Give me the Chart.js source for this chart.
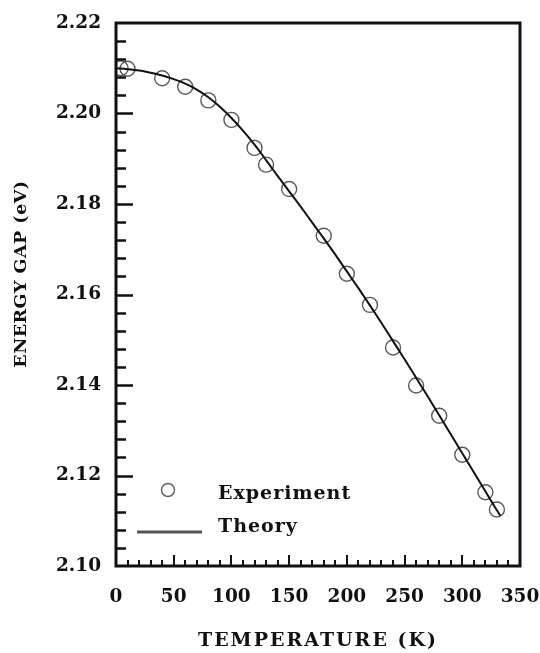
<!DOCTYPE html>
<html>
<head>
<meta charset="utf-8">
<title>Energy gap vs temperature</title>
<script src="https://cdn.jsdelivr.net/npm/chart.js@4"></script>
<style>
  html, body { margin: 0; padding: 0; background: #fff; }
  #wrap { width: 540px; height: 653px; }
</style>
</head>
<body>
<div id="wrap"><canvas id="gapChart" width="540" height="653"></canvas></div>
<script>
// Medidas: temperatura (K) y gap de energía (eV)
const expTemp = [4, 10, 40, 60, 80, 100, 120, 130, 150, 180, 200, 220, 240, 260, 280, 300, 320, 330];
const expGap = [2.2100, 2.2099, 2.2078, 2.2059, 2.2029, 2.1986, 2.1924, 2.1887, 2.1833, 2.1730,
                2.1646, 2.1577, 2.1483, 2.1399, 2.1332, 2.1246, 2.1163, 2.1125];

// Curva teórica
const theoryTemp = [0, 10, 20, 30, 40, 50, 60, 70, 80, 90, 100, 110, 120, 130, 140, 150, 160,
                    170, 180, 190, 200, 210, 220, 230, 240, 250, 260, 270, 280, 290, 300, 310,
                    320, 330, 333];
const theoryGap = [2.2100, 2.2098, 2.2095, 2.2090, 2.2084, 2.2076, 2.2066, 2.2053, 2.2036, 2.2015,
                   2.1990, 2.1962, 2.1931, 2.1897, 2.1862, 2.1828, 2.1794, 2.1759, 2.1724, 2.1688,
                   2.1651, 2.1614, 2.1576, 2.1537, 2.1497, 2.1457, 2.1416, 2.1375, 2.1333, 2.1291,
                   2.1249, 2.1207, 2.1165, 2.1123, 2.1111];

// Marcas de los ejes
const xTicks = [0, 50, 100, 150, 200, 250, 300, 350];
const yTicks = [2.10, 2.12, 2.14, 2.16, 2.18, 2.20, 2.22];
const xMinorStep = 10;
const yMinorStep = 0.004;

const xTitle = 'TEMPERATURE (K)';
const yTitle = 'ENERGY GAP (eV)';

const serif = "'DejaVu Serif', 'Liberation Serif', serif";

function toPoints(xs, ys) {
    return xs.map((x, i) => ({ x: x, y: ys[i] }));
}

// Marco, marcas interiores, títulos y leyenda
const decorPlugin = {
    id: 'decor',
    afterDraw(chart) {
        const ctx = chart.ctx;
        const area = chart.chartArea;
        const xs = chart.scales.x;
        const ys = chart.scales.y;

        ctx.save();
        ctx.strokeStyle = '#111';
        ctx.lineCap = 'butt';

        // Marcas del eje Y (hacia dentro)
        ctx.lineWidth = 2.5;
        const nY = Math.round((ys.max - ys.min) / yMinorStep);
        for (let i = 1; i < nY; i++) {
            const py = Math.round(ys.getPixelForValue(ys.min + i * yMinorStep)) + 0.5;
            const len = (i % 5 === 0) ? 17 : 10;
            ctx.beginPath();
            ctx.moveTo(area.left, py);
            ctx.lineTo(area.left + len, py);
            ctx.stroke();
        }

        // Marcas del eje X
        ctx.lineWidth = 2;
        const nX = Math.round((xs.max - xs.min) / xMinorStep);
        for (let i = 1; i < nX; i++) {
            const px = Math.round(xs.getPixelForValue(xs.min + i * xMinorStep));
            const len = (i % 5 === 0) ? 11 : 6;
            ctx.beginPath();
            ctx.moveTo(px, area.bottom);
            ctx.lineTo(px, area.bottom - len);
            ctx.stroke();
        }

        // Marco
        ctx.lineWidth = 3;
        ctx.strokeRect(area.left, area.top, area.right - area.left, area.bottom - area.top);

        // Títulos de los ejes
        ctx.fillStyle = '#111';
        ctx.textAlign = 'center';
        ctx.textBaseline = 'middle';
        ctx.font = 'bold 19px ' + serif;
        ctx.letterSpacing = '2px';
        ctx.fillText(xTitle, 318, 641);
        ctx.font = 'bold 17.5px ' + serif;
        ctx.letterSpacing = '0.5px';
        ctx.translate(21, 274);
        ctx.rotate(-Math.PI / 2);
        ctx.fillText(yTitle, 0, 0);
        ctx.restore();

        // Leyenda
        const exp = chart.data.datasets[1];
        const th = chart.data.datasets[0];
        ctx.save();
        ctx.strokeStyle = '#666';
        ctx.lineWidth = 1.5;
        ctx.beginPath();
        ctx.arc(168, 490, 6.5, 0, Math.PI * 2);
        ctx.stroke();
        ctx.strokeStyle = '#555';
        ctx.lineWidth = 3;
        ctx.beginPath();
        ctx.moveTo(137, 532);
        ctx.lineTo(202, 532);
        ctx.stroke();
        ctx.fillStyle = '#111';
        ctx.font = 'bold 19px ' + serif;
        ctx.letterSpacing = '1px';
        ctx.textAlign = 'left';
        ctx.textBaseline = 'alphabetic';
        ctx.fillText(exp.label, 218, 499);
        ctx.fillText(th.label, 218, 532);
        ctx.restore();
    }
};

function initGapChart(ctx) {
    return new Chart(ctx, {
        type: 'scatter',
        data: {
            datasets: [
                {
                    label: 'Theory',
                    data: toPoints(theoryTemp, theoryGap),
                    showLine: true,
                    borderColor: '#111',
                    borderWidth: 2,
                    pointRadius: 0,
                    cubicInterpolationMode: 'monotone'
                },
                {
                    label: 'Experiment',
                    data: toPoints(expTemp, expGap),
                    showLine: false,
                    pointStyle: 'circle',
                    pointRadius: 7.5,
                    borderColor: '#5a5a5a',
                    borderWidth: 1.4,
                    backgroundColor: 'rgba(0,0,0,0)'
                }
            ]
        },
        options: {
            responsive: false,
            animation: false,
            layout: { padding: { left: 0, top: 23, right: 20, bottom: 0 } },
            plugins: {
                legend: { display: false },
                tooltip: { enabled: false }
            },
            scales: {
                x: {
                    type: 'linear',
                    min: 0,
                    max: 350,
                    afterBuildTicks: scale => { scale.ticks = xTicks.map(v => ({ value: v })); },
                    afterFit: scale => {
                        scale.height = 87;
                        scale.paddingLeft = 0;
                        scale.paddingRight = 0;
                    },
                    grid: { display: false, drawTicks: false },
                    border: { display: false },
                    ticks: {
                        color: '#111',
                        padding: 20,
                        font: { family: serif, size: 18.5, weight: 'bold' },
                        callback: v => String(v)
                    }
                },
                y: {
                    type: 'linear',
                    min: 2.10,
                    max: 2.22,
                    afterBuildTicks: scale => { scale.ticks = yTicks.map(v => ({ value: v })); },
                    afterFit: scale => {
                        scale.width = 116;
                        scale.paddingTop = 0;
                        scale.paddingBottom = 0;
                    },
                    grid: { display: false, drawTicks: false },
                    border: { display: false },
                    ticks: {
                        color: '#111',
                        padding: 15,
                        font: { family: serif, size: 18.5, weight: 'bold' },
                        callback: v => v.toFixed(2)
                    }
                }
            }
        },
        plugins: [decorPlugin]
    });
}

document.addEventListener('DOMContentLoaded', () => {
    initGapChart(document.getElementById('gapChart'));
});
</script>
</body>
</html>
